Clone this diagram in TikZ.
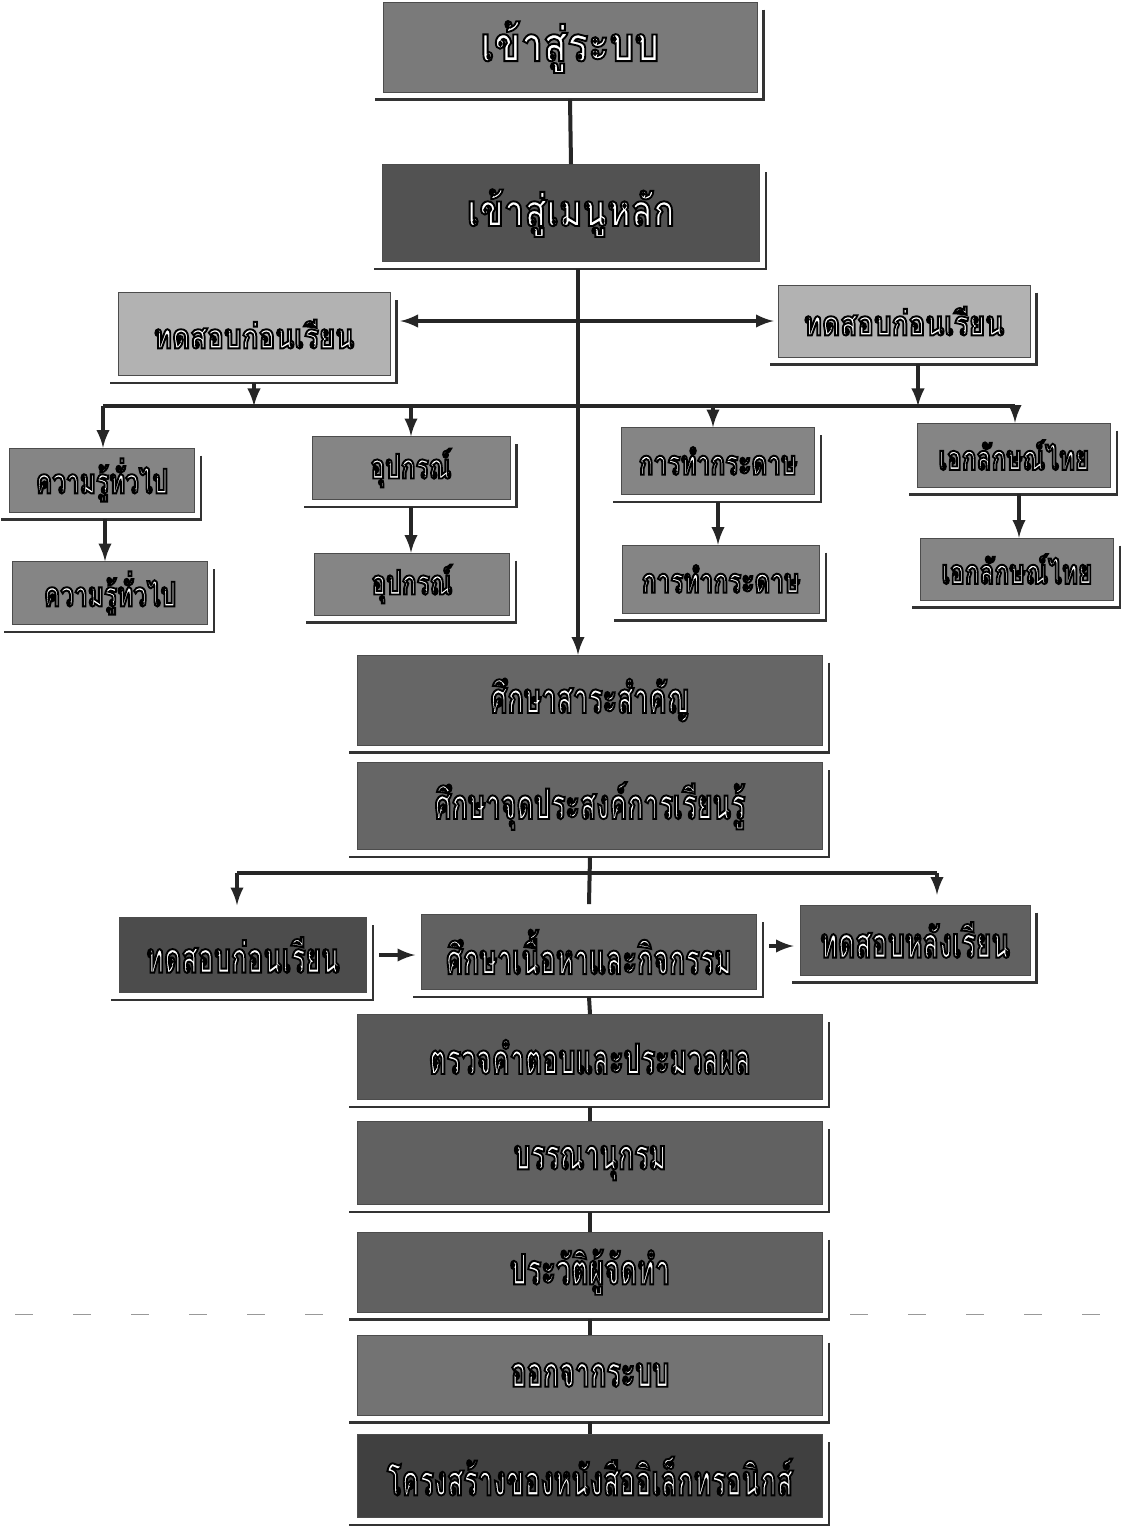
\documentclass[tikz,border=0pt]{standalone}
\usepackage{fontspec}
\newfontfamily\thaifont[Script=Thai,FakeStretch=0.64]{Loma}
\newfontfamily\thaimid[Script=Thai,FakeStretch=0.72]{Loma}
\newfontfamily\thaiwide[Script=Thai,FakeStretch=0.82]{Loma}
\newcommand{\boxtext}[1]{\special{pdf:literal direct 2 Tr 0.95 w 0 G}#1\special{pdf:literal direct 0 Tr}}
\begin{document}
\begin{tikzpicture}[x=0.5pt,y=-0.5pt,
	box/.style={draw=black!70, line width=0.4pt, inner sep=0pt, text=white, font=\thaifont\bfseries\fontsize{21}{25}\selectfont},
	wide/.style={font=\thaiwide\bfseries\fontsize{#1}{25}\selectfont},
	level/.style={font=\thaimid\bfseries\fontsize{17}{20}\selectfont},
	conn/.style={line width=2pt, black!85},
	shadowline/.style={line width=1.2pt, black!80},
	foldline/.style={black!40, line width=0.5pt, dash pattern=on 9pt off 20pt}]
					\useasboundingbox (0,0) rectangle (1120,1532);
					\draw[foldline] (15,1314) -- (340,1314);
					\draw[foldline] (850,1314) -- (1120,1314);
					\node[box, wide=24, fill=black!52, minimum width=187pt, minimum height=45pt] (login) at (570,47) {\boxtext{เข้าสู่ระบบ}};
					\node[box, wide=22, fill=black!68, minimum width=188.5pt, minimum height=48.5pt] (menu) at (571,213) {\boxtext{เข้าสู่เมนูหลัก}};
					\node[box, wide=17, fill=black!30, minimum width=136pt, minimum height=41.5pt] (pretestL) at (254,334) {\boxtext{ทดสอบก่อนเรียน}};
					\node[box, wide=17, fill=black!30, minimum width=126pt, minimum height=36pt] (pretestR) at (904,321) {\boxtext{ทดสอบก่อนเรียน}};
					\node[box, level, fill=black!48, minimum width=92.5pt, minimum height=32pt] (know1) at (102,480) {\boxtext{ความรู้ทั่วไป}};
					\node[box, level, fill=black!48, minimum width=97.5pt, minimum height=31.5pt] (know2) at (110,593) {\boxtext{ความรู้ทั่วไป}};
					\node[box, level, fill=black!48, minimum width=99pt, minimum height=31.5pt] (equip1) at (411,468) {\boxtext{อุปกรณ์}};
					\node[box, level, fill=black!48, minimum width=97.5pt, minimum height=31pt] (equip2) at (412,584) {\boxtext{อุปกรณ์}};
					\node[box, level, fill=black!48, minimum width=96.5pt, minimum height=33.5pt] (paper1) at (718,461) {\boxtext{การทำกระดาษ}};
					\node[box, level, fill=black!48, minimum width=98.5pt, minimum height=34pt] (paper2) at (721,579) {\boxtext{การทำกระดาษ}};
					\node[box, level, fill=black!48, minimum width=96.5pt, minimum height=32pt] (thai1) at (1014,455) {\boxtext{เอกลักษณ์ไทย}};
					\node[box, level, fill=black!48, minimum width=96.5pt, minimum height=31pt] (thai2) at (1017,569) {\boxtext{เอกลักษณ์ไทย}};
					\node[box, fill=black!60, minimum width=232.5pt, minimum height=45pt] (essence) at (590,700) {\boxtext{ศึกษาสาระสำคัญ}};
					\node[box, fill=black!60, minimum width=232.5pt, minimum height=43.5pt] (objective) at (590,806) {\boxtext{ศึกษาจุดประสงค์การเรียนรู้}};
					\node[box, fill=black!70, minimum width=123.5pt, minimum height=37.5pt] (pretest) at (243,955) {\boxtext{ทดสอบก่อนเรียน}};
					\node[box, fill=black!62, minimum width=167.5pt, minimum height=37.5pt] (content) at (589,952) {\boxtext{ศึกษาเนื้อหาและกิจกรรม}};
					\node[box, fill=black!62, minimum width=115pt, minimum height=35pt] (posttest) at (915,940) {\boxtext{ทดสอบหลังเรียน}};
					\node[box, fill=black!65, minimum width=232.5pt, minimum height=42.5pt] (check) at (590,1057) {\boxtext{ตรวจคำตอบและประมวลผล}};
					\node[box, fill=black!62, minimum width=232.5pt, minimum height=41.5pt] (biblio) at (590,1163) {\boxtext{บรรณานุกรม}};
					\node[box, fill=black!62, minimum width=232.5pt, minimum height=40pt] (profile) at (590,1272) {\boxtext{ประวัติผู้จัดทำ}};
					\node[box, fill=black!55, minimum width=232.5pt, minimum height=40pt] (logout) at (590,1375) {\boxtext{ออกจากระบบ}};
					\node[box, fill=black!75, minimum width=232.5pt, minimum height=41.5pt] (structure) at (590,1476) {\boxtext{โครงสร้างของหนังสืออิเล็กทรอนิกส์}};
					\foreach \n in {login,menu,pretestL,pretestR,know1,know2,equip1,equip2,paper1,paper2,thai1,thai2,essence,objective,pretest,content,posttest,check,biblio,profile,logout,structure}
						\draw[shadowline] ([shift={(6,8)}]\n.north east) -- ([shift={(6,7)}]\n.south east) -- ([shift={(-8,7)}]\n.south west);
					\coordinate (busL) at (103,406);
					\coordinate (busR) at (1015,406);
					\coordinate (bus2L) at (237,873);
					\coordinate (bus2R) at (937,873);
					\draw[conn] ([shift={(0,7)}]login.south) -- (menu.north);
					\draw[conn, -latex] ([shift={(7,7)}]menu.south) -- ([shift={(-12,0)}]essence.north);
					\draw[conn, latex-latex] ([shift={(10,0)}]pretestL.east |- pretestR.west) -- ([shift={(-4,0)}]pretestR.west);
					\draw[conn] (busL) -- (busR);
					\draw[conn, -latex] ([shift={(0,7)}]pretestL.south) -- (pretestL.south |- busL);
					\draw[conn, -latex] ([shift={(14,7)}]pretestR.south) -- ([shift={(14,0)}]pretestR.south |- busR);
					\draw[conn, -latex] (busL) -- (busL |- know1.north);
					\draw[conn, -latex] (equip1.north |- busL) -- (equip1.north);
					\draw[conn, -latex] ([shift={(-5,0)}]paper1.north |- busL) -- ([shift={(-5,0)}]paper1.north);
					\draw[conn, -latex] (busR) -- (busR |- thai1.north);
					\draw[conn, -latex] ([shift={(3,7)}]know1.south) -- ([shift={(3,0)}]know1.south |- know2.north);
					\draw[conn, -latex] ([shift={(0,7)}]equip1.south) -- (equip1.south |- equip2.north);
					\draw[conn, -latex] ([shift={(0,7)}]paper1.south) -- (paper1.south |- paper2.north);
					\draw[conn, -latex] ([shift={(5,7)}]thai1.south) -- ([shift={(5,0)}]thai1.south |- thai2.north);
					\draw[conn] ([shift={(0,7)}]objective.south) -- ([shift={(0,-10)}]content.north);
					\draw[conn] (bus2L) -- (bus2R);
					\draw[conn, -latex] (bus2L) -- ([shift={(0,-12)}]bus2L |- pretest.north);
					\draw[conn, -latex] (bus2R) -- ([shift={(0,-10)}]bus2R |- posttest.north);
					\draw[conn, -latex] ([shift={(12,0)}]pretest.east) -- ([shift={(-6,0)}]pretest.east -| content.west);
					\draw[conn, -latex] ([shift={(12,-6)}]content.east) -- ([shift={(-6,-6)}]content.east -| posttest.west);
					\draw[conn] ([shift={(0,7)}]content.south) -- (check.north);
					\draw[conn] ([shift={(0,7)}]check.south) -- (biblio.north);
					\draw[conn] ([shift={(0,7)}]biblio.south) -- (profile.north);
					\draw[conn] ([shift={(0,7)}]profile.south) -- (logout.north);
					\draw[conn] ([shift={(0,7)}]logout.south) -- (structure.north);
\end{tikzpicture}
\end{document}
